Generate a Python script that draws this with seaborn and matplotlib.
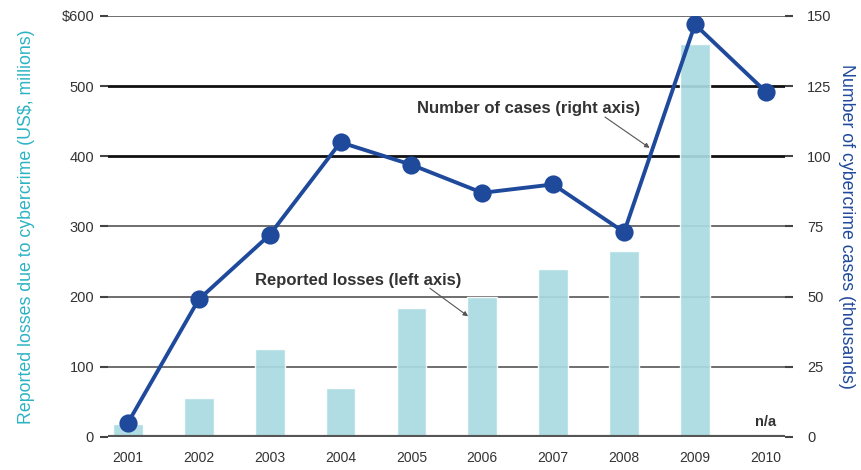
import numpy as np
import pandas as pd
import matplotlib
matplotlib.use("Agg")
import matplotlib.pyplot as plt
import seaborn as sns

years = ["2001", "2002", "2003", "2004", "2005", "2006", "2007", "2008", "2009", "2010"]
losses = [18, 55, 126, 70, 184, 199, 240, 265, 560, np.nan]   # US$ millions, 2010 n/a
cases = [5, 49, 72, 105, 97, 87, 90, 73, 147, 123]           # thousands

left_ticks = [0, 100, 200, 300, 400, 500, 600]
left_labels = ["0", "100", "200", "300", "400", "500", "$600"]
right_ticks = [0, 25, 50, 75, 100, 125, 150]

df = pd.DataFrame({"year": years, "losses": losses, "cases": cases})

sns.set_theme(style="white")
plt.rcParams["font.family"] = ["Liberation Sans", "DejaVu Sans"]

text_col = "#333333"
bar_col = "#a9dbe2"
line_col = "#1f4a9c"
teal = "#2bb3c3"

fig = plt.figure(figsize=(8.61, 4.70), dpi=100)
ax = fig.add_axes([108 / 861, 33 / 470, (785 - 108) / 861, (437 - 16) / 470])

for v in left_ticks[1:]:
    heavy = v in (400, 500)
    ax.axhline(v, color="#111111" if heavy else "#555555",
               lw=2.0 if heavy else 1.2, zorder=0.5)

sns.barplot(data=df, x="year", y="losses", order=years, color=bar_col,
            width=0.42, saturation=1, alpha=0.92, ax=ax)
for p in ax.patches:
    p.set_zorder(1)

ax.axhline(0, color="#555555", lw=3, zorder=2)
ax.set_ylim(0, 600)
ax.set_xlim(-0.28, 9.27)
ax.set_yticks(left_ticks)
ax.set_yticklabels(left_labels)
for s in ax.spines.values():
    s.set_visible(False)
ax.tick_params(axis="y", direction="out", length=6, width=1.5, color="#444444",
               labelsize=10.5, labelcolor=text_col, pad=4)
ax.tick_params(axis="x", length=0, labelsize=10, labelcolor=text_col, pad=10)
ax.set_xlabel("")
ax.set_ylabel("Reported losses due to cybercrime (US$, millions)", color=teal,
              fontsize=12.8, labelpad=19)

ax2 = ax.twinx()
sns.pointplot(data=df, x="year", y="cases", order=years, color=line_col,
              markers="o", markersize=11, linewidth=2.8, ax=ax2)
ax2.set_ylim(0, 150)
ax2.set_xlim(-0.28, 9.27)
ax2.set_yticks(right_ticks)
for s in ax2.spines.values():
    s.set_visible(False)
ax2.tick_params(axis="y", direction="out", length=6, width=1.5, color="#444444",
                labelsize=10.5, labelcolor=text_col, pad=10)
ax2.set_ylabel("Number of cybercrime cases (thousands)", color=line_col,
               fontsize=12.8, rotation=-90, labelpad=17)
ax2.set_xlabel("")

arrow = dict(arrowstyle="-|>", color="#555555", lw=0.8, mutation_scale=7,
             shrinkA=0, shrinkB=0)

ax.text(7.23, 458, "Number of cases (right axis)", ha="right", va="bottom",
        fontsize=12, fontweight="bold", color=text_col)
ax.annotate("", xy=(7.36, 412), xytext=(6.73, 456), arrowprops=arrow)

ax.text(1.8, 213, "Reported losses (left axis)", ha="left", va="bottom",
        fontsize=12, fontweight="bold", color=text_col)
ax.annotate("", xy=(4.8, 172), xytext=(4.26, 212), arrowprops=arrow)

ax.text(9, 12, "n/a", ha="center", va="bottom", fontsize=10.5, fontweight="bold",
        color=text_col)

fig.savefig("out.png", dpi=100)
